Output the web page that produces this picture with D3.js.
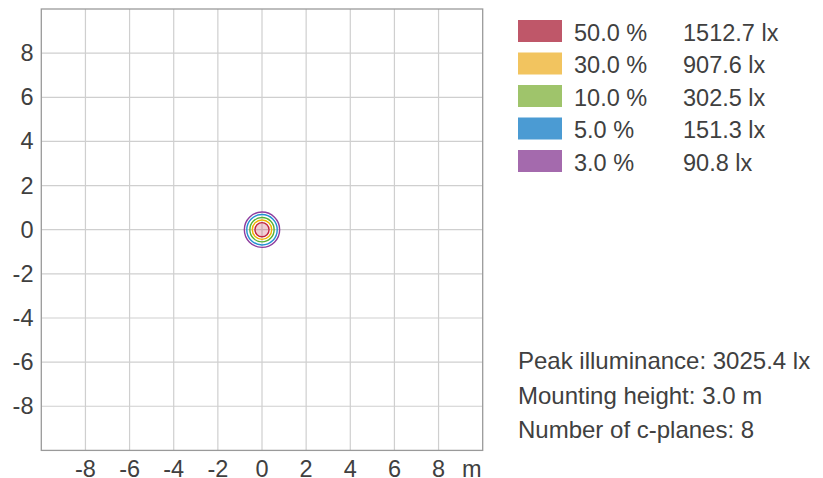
<!DOCTYPE html>
<html>
<head>
<meta charset="utf-8">
<script src="https://cdn.jsdelivr.net/npm/d3@7"></script>
<style>
  body { margin: 0; background: #fff; }
  text { font-family: "Liberation Sans", Arial, sans-serif; fill: #404040; }
</style>
</head>
<body>
<svg width="823" height="478"></svg>
<script>
// isolux levels (percent of peak), lux values, contour radius in metres
var levels = [50.0, 30.0, 10.0, 5.0, 3.0];
var luxValues = ["1512.7", "907.6", "302.5", "151.3", "90.8"];
var radii = [0.32, 0.44, 0.55, 0.69, 0.80];
var swatchColors = ["#bf5769", "#f2c45f", "#9fc46b", "#4b9bd3", "#a46aad"];
var lineColors = ["#c0243f", "#f0b400", "#56b233", "#2290d2", "#8e3d9e"];
var ticks = [-8, -6, -4, -2, 0, 2, 4, 6, 8];
var info = ["Peak illuminance: 3025.4 lx", "Mounting height: 3.0 m", "Number of c-planes: 8"];

var svg = d3.select("svg"),
    plot = {left: 41.3, top: 9, right: 482.7, bottom: 450.4},
    fs = "23.5px";

var x = d3.scaleLinear().domain([-10, 10]).range([plot.left, plot.right]),
    y = d3.scaleLinear().domain([-10, 10]).range([plot.bottom, plot.top]);

svg.append("g").selectAll("line")
    .data(ticks)
  .enter().append("line")
    .attr("x1", function(d) { return x(d); })
    .attr("x2", function(d) { return x(d); })
    .attr("y1", plot.top).attr("y2", plot.bottom)
    .attr("stroke", "#cfcfcf").attr("stroke-width", 1.2);

svg.append("g").selectAll("line")
    .data(ticks)
  .enter().append("line")
    .attr("y1", function(d) { return y(d); })
    .attr("y2", function(d) { return y(d); })
    .attr("x1", plot.left).attr("x2", plot.right)
    .attr("stroke", "#cfcfcf").attr("stroke-width", 1.2);

svg.append("rect")
    .attr("x", plot.left).attr("y", plot.top)
    .attr("width", plot.right - plot.left)
    .attr("height", plot.bottom - plot.top)
    .attr("fill", "none")
    .attr("stroke", "#9a9a9a")
    .attr("stroke-width", 1.3);

// x tick labels
svg.append("g").selectAll("text")
    .data(ticks)
  .enter().append("text")
    .attr("x", function(d) { return x(d); })
    .attr("y", 476.5)
    .attr("text-anchor", "middle")
    .style("font-size", fs)
    .text(function(d) { return d; });

svg.append("text")
    .attr("x", x(9.5)).attr("y", 476.5)
    .attr("text-anchor", "middle")
    .style("font-size", fs)
    .text("m");

// y tick labels
svg.append("g").selectAll("text")
    .data(ticks)
  .enter().append("text")
    .attr("x", 33.5)
    .attr("y", function(d) { return y(d) + 8; })
    .attr("text-anchor", "end")
    .style("font-size", fs)
    .text(function(d) { return d; });

// isolux contours (largest first so inner ones sit on top)
var contours = levels.map(function(l, i) { return {level: l, r: radii[i], color: lineColors[i], i: i}; });
svg.append("g").selectAll("circle")
    .data(contours.slice().reverse())
  .enter().append("circle")
    .attr("cx", x(0))
    .attr("cy", y(0))
    .attr("r", function(d) { return x(d.r) - x(0); })
    .attr("fill", function(d) { return d.i === 0 ? "rgba(192,36,63,0.22)" : "none"; })
    .attr("stroke", function(d) { return d.color; })
    .attr("stroke-width", 1.4);

// legend
var legend = svg.append("g").selectAll("g")
    .data(levels)
  .enter().append("g")
    .attr("transform", function(d, i) { return "translate(518," + (20 + i * 32.5) + ")"; });

legend.append("rect")
    .attr("width", 44).attr("height", 22)
    .attr("fill", function(d, i) { return swatchColors[i]; });

legend.append("text")
    .attr("x", 56).attr("y", 20.5)
    .style("font-size", fs)
    .text(function(d) { return d.toFixed(1) + " %"; });

legend.append("text")
    .attr("x", 165).attr("y", 20.5)
    .style("font-size", fs)
    .text(function(d, i) { return luxValues[i] + " lx"; });

svg.append("g").selectAll("text")
    .data(info)
  .enter().append("text")
    .attr("x", 518)
    .attr("y", function(d, i) { return 369 + i * 34.5; })
    .style("font-size", "24px")
    .text(function(d) { return d; });
</script>
</body>
</html>
